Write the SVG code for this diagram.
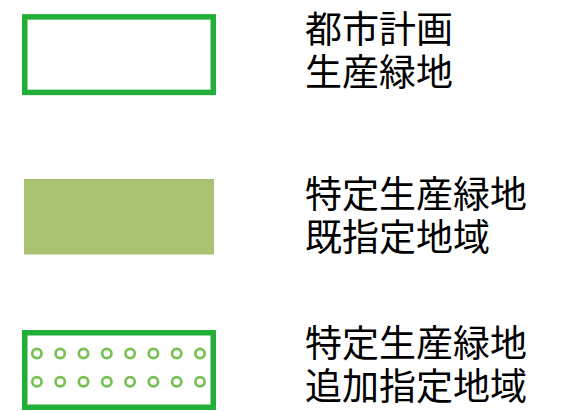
<svg xmlns="http://www.w3.org/2000/svg" width="568" height="411" viewBox="0 0 568 411">
<style>
.frame{fill:#fff;stroke:#22AF38;stroke-width:5.5}
.dot{fill:none;stroke:#77C152;stroke-width:2.7}
.lbl{font-family:"Noto Sans CJK JP","Noto Sans",sans-serif;font-size:37px;fill:#000}
</style>
<rect width="568" height="411" fill="#fff"/>
<g id="legend-urban">
<rect class="frame" x="24.75" y="16.9" width="188.5" height="75.5"/>
<text class="lbl"><tspan x="305" y="43">都市計画</tspan><tspan x="305" y="86">生産緑地</tspan></text>
</g>
<g id="legend-existing">
<rect x="24" y="179" width="190" height="75.5" fill="#AAC373"/>
<text class="lbl"><tspan x="305" y="208">特定生産緑地</tspan><tspan x="305" y="251">既指定地域</tspan></text>
</g>
<g id="legend-added">
<rect class="frame" x="24.75" y="332.75" width="188.5" height="74.5"/>
<g id="dots">
<circle class="dot" cx="36.9" cy="353.5" r="4.65"/><circle class="dot" cx="60.2" cy="353.5" r="4.65"/><circle class="dot" cx="83.5" cy="353.5" r="4.65"/><circle class="dot" cx="106.8" cy="353.5" r="4.65"/><circle class="dot" cx="130.1" cy="353.5" r="4.65"/><circle class="dot" cx="153.4" cy="353.5" r="4.65"/><circle class="dot" cx="176.7" cy="353.5" r="4.65"/><circle class="dot" cx="200" cy="353.5" r="4.65"/>
<circle class="dot" cx="36.9" cy="381.7" r="4.65"/><circle class="dot" cx="60.2" cy="381.7" r="4.65"/><circle class="dot" cx="83.5" cy="381.7" r="4.65"/><circle class="dot" cx="106.8" cy="381.7" r="4.65"/><circle class="dot" cx="130.1" cy="381.7" r="4.65"/><circle class="dot" cx="153.4" cy="381.7" r="4.65"/><circle class="dot" cx="176.7" cy="381.7" r="4.65"/><circle class="dot" cx="200" cy="381.7" r="4.65"/>
</g>
<text class="lbl"><tspan x="305" y="357">特定生産緑地</tspan><tspan x="305" y="400">追加指定地域</tspan></text>
</g>
</svg>
